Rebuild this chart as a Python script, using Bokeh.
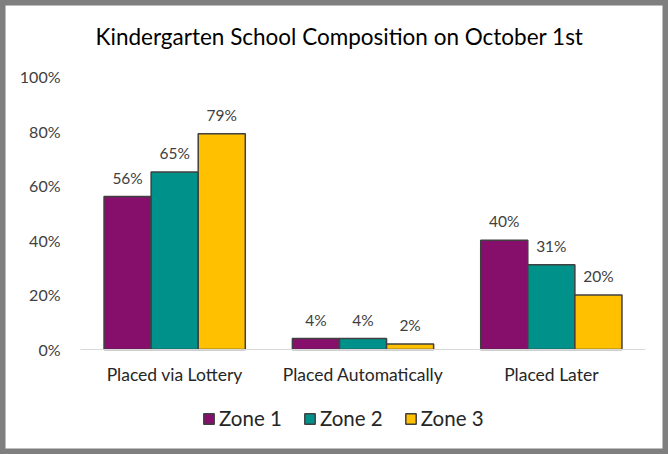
from bokeh.plotting import figure
from bokeh.models import (ColumnDataSource, Legend, LegendItem, NumeralTickFormatter,
                          Range1d, FixedTicker, Label)
from bokeh.transform import dodge
from bokeh.embed import file_html
from bokeh.resources import INLINE
from bokeh.core.properties import value

title = "Kindergarten School Composition on October 1st"
categories = ["Placed via Lottery", "Placed Automatically", "Placed Later"]
zones = ["Zone 1", "Zone 2", "Zone 3"]
zone1 = [0.56, 0.04, 0.40]
zone2 = [0.65, 0.04, 0.31]
zone3 = [0.79, 0.02, 0.20]
colors = ["#860F6B", "#00918A", "#FFC000"]
yticks = [0, 0.2, 0.4, 0.6, 0.8, 1.0]

FONT = "Lato"
W, H = 668, 454
# frame covers the whole canvas; plot area spans 80..645 px horizontally, 76..349 px vertically
px_per_cat = 565 / len(categories)
px_per_unit = 273
x_range = Range1d(-80 / px_per_cat, len(categories) + 23 / px_per_cat)
y_range = Range1d(-(H - 349) / px_per_unit, 1 + 76 / px_per_unit)

xpos = [i + 0.5 for i in range(len(categories))]

p = figure(width=W, height=H, x_range=x_range, y_range=y_range,
           output_backend="svg", toolbar_location=None,
           min_border=0, min_border_left=0, min_border_right=0,
           min_border_top=0, min_border_bottom=0)

p.outline_line_color = "#7F7F7F"
p.outline_line_width = 10
p.xgrid.grid_line_color = None
p.ygrid.grid_line_color = None

src = ColumnDataSource(dict(x=xpos, cat=categories, z1=zone1, z2=zone2, z3=zone3,
                            l1=[f"{round(v*100)}%" for v in zone1],
                            l2=[f"{round(v*100)}%" for v in zone2],
                            l3=[f"{round(v*100)}%" for v in zone3]))

items = []
for i, (key, lab, off) in enumerate([("z1", "l1", -0.25), ("z2", "l2", 0.0), ("z3", "l3", 0.25)]):
    r = p.vbar(x=dodge("x", off), top=key, width=0.25, source=src,
               fill_color=colors[i], line_color="#404040", line_width=1.5)
    p.text(x=dodge("x", off), y=key, text=lab, source=src,
           text_align="center", text_baseline="bottom", y_offset=-10,
           text_font=value(FONT), text_font_size="15.5px", text_color="#404040")
    items.append(LegendItem(label=zones[i], renderers=[r]))

# x axis drawn at y=0 inside the frame
p.xaxis.fixed_location = 0
p.xaxis.bounds = (0, len(categories))
p.xaxis.ticker = FixedTicker(ticks=xpos)
p.xaxis.major_label_overrides = {x: c for x, c in zip(xpos, categories)}
p.xaxis.axis_line_color = "#D9D9D9"
p.xaxis.axis_line_width = 1
p.xaxis.major_tick_line_color = None
p.xaxis.minor_tick_line_color = None
p.xaxis.major_label_text_font = FONT
p.xaxis.major_label_text_font_size = "17.5px"
p.xaxis.major_label_text_color = "#262626"
p.xaxis.major_label_standoff = 8

# y axis drawn at x=0 inside the frame
p.yaxis.fixed_location = 0
p.yaxis.axis_line_color = None
p.yaxis.major_tick_line_color = None
p.yaxis.minor_tick_line_color = None
p.yaxis.ticker = FixedTicker(ticks=yticks)
p.yaxis.formatter = NumeralTickFormatter(format="0%")
p.yaxis.major_label_text_font = FONT
p.yaxis.major_label_text_font_size = "16px"
p.yaxis.major_label_text_color = "#404040"
p.yaxis.major_label_standoff = 14

p.add_layout(Label(x=(339 - 80) / px_per_cat, y=(349 - 36) / px_per_unit, text=title,
                   text_align="center", text_baseline="middle",
                   text_font=FONT, text_font_size="22.5px", text_color="#000000"))

legend = Legend(items=items, orientation="horizontal", location=(202, 24),
                label_text_font=FONT, label_text_font_size="20.5px", label_text_color="#262626",
                glyph_width=13, glyph_height=13, spacing=21, label_standoff=4,
                border_line_color=None, background_fill_alpha=0, padding=0, margin=0)
p.add_layout(legend, "center")

open("out.html", "w").write(file_html(p, INLINE))
